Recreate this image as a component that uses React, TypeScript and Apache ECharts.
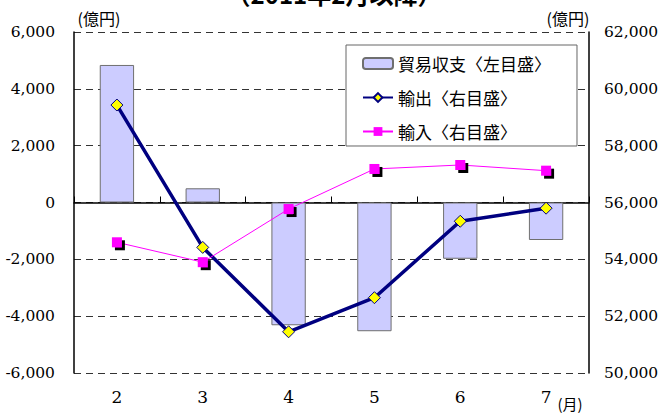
import React, { useEffect, useRef } from "react";
import * as echarts from "echarts";

// 月
const months = ["2", "3", "4", "5", "6", "7"];
// 貿易収支（億円、左目盛）
const tradeBalance = [4840, 500, -4320, -4530, -1980, -1320];
// 輸出（億円、右目盛）
const exportsValues = [59430, 54420, 51450, 52650, 55340, 55800];
// 輸入（億円、右目盛）
const importsValues = [54600, 53900, 55770, 57180, 57320, 57120];

const leftTicks = { min: -6000, max: 6000, interval: 2000 };
const rightTicks = { min: 50000, max: 62000, interval: 2000 };

const seriesNames = ["貿易収支〈左目盛〉", "輸出〈右目盛〉", "輸入〈右目盛〉"];

const SERIF = "DejaVu Serif";
const JP = "Noto Sans CJK JP";

const fmt = (v: number) => v.toLocaleString("en-US");

export default function App() {
  const ref = useRef<HTMLDivElement>(null);

  useEffect(() => {
    if (!ref.current) return;
    const chart = echarts.init(ref.current, undefined, { renderer: "svg" });
    chart.setOption({
      animation: false,
      backgroundColor: "#ffffff",
      grid: { left: 74, right: 71, top: 32, bottom: 43, containLabel: false, outerBoundsMode: "none" },
      legend: {
        data: seriesNames,
        orient: "vertical",
        left: 346,
        top: 45,
        padding: [10, 26, 6, 16],
        itemWidth: 30,
        itemHeight: 11,
        itemGap: 17,
        backgroundColor: "#ffffff",
        borderColor: "#666666",
        borderWidth: 1,
        borderRadius: 0,
        textStyle: { fontSize: 17, lineHeight: 11, color: "#000", fontFamily: JP },
      },
      xAxis: [
        {
          type: "category",
          data: months,
          position: "bottom",
          axisLine: { onZero: true, onZeroAxisIndex: 0, lineStyle: { color: "#000", width: 1.5 } },
          axisTick: { show: true, inside: true, length: 6, lineStyle: { color: "#000", width: 1 } },
          axisLabel: { show: false },
          splitLine: { show: false },
        },
        {
          type: "category",
          data: months,
          position: "bottom",
          axisLine: { show: false, onZero: false },
          axisTick: { show: false },
          axisLabel: { fontSize: 17, color: "#000", margin: 15, fontFamily: SERIF },
          splitLine: { show: false },
        },
      ],
      yAxis: [
        {
          type: "value",
          position: "left",
          ...leftTicks,
          axisLine: { show: true, lineStyle: { color: "#000", width: 1.5 } },
          axisTick: { show: false },
          axisLabel: { fontSize: 15.5, color: "#000", margin: 19, fontFamily: SERIF, formatter: fmt },
          splitLine: { show: true, lineStyle: { color: "#333", width: 1, type: [7, 5] } },
        },
        {
          type: "value",
          position: "right",
          ...rightTicks,
          axisLine: { show: true, lineStyle: { color: "#000", width: 1.5 } },
          axisTick: { show: false },
          axisLabel: { fontSize: 15.5, color: "#000", margin: 15, fontFamily: SERIF, formatter: fmt },
          splitLine: { show: false },
        },
      ],
      series: [
        {
          name: seriesNames[0],
          type: "bar",
          xAxisIndex: 0,
          yAxisIndex: 0,
          data: tradeBalance,
          barWidth: "40%",
          itemStyle: { color: "#ccccff", borderColor: "#6f6f6f", borderWidth: 1 },
          z: 2,
        },
        {
          name: seriesNames[1],
          type: "line",
          xAxisIndex: 0,
          yAxisIndex: 1,
          data: exportsValues,
          symbol: "diamond",
          symbolSize: 12,
          lineStyle: { color: "#000080", width: 3.5 },
          itemStyle: { color: "#ffff00", borderColor: "#000080", borderWidth: 1 },
          z: 3,
        },
        {
          name: seriesNames[2],
          type: "line",
          xAxisIndex: 0,
          yAxisIndex: 1,
          data: importsValues,
          symbol: "rect",
          symbolSize: 10,
          lineStyle: { color: "#ff00ff", width: 1 },
          itemStyle: {
            color: "#ff00ff",
            borderWidth: 0,
            shadowColor: "#000000",
            shadowOffsetX: 3,
            shadowOffsetY: 3,
            shadowBlur: 0,
          },
          z: 4,
        },
      ],
      graphic: [
        {
          type: "text",
          x: 334,
          y: -7,
          style: {
            text: "（2011年2月以降）",
            fontSize: 24,
            fontWeight: "bold",
            fill: "#000",
            fontFamily: JP,
            textAlign: "center",
            textVerticalAlign: "middle",
          },
        },
        {
          type: "text",
          x: 99,
          y: 18,
          style: { text: "(億円)", fontSize: 16, fill: "#000", fontFamily: JP, textAlign: "center", textVerticalAlign: "middle" },
        },
        {
          type: "text",
          x: 568,
          y: 18,
          style: { text: "(億円)", fontSize: 16, fill: "#000", fontFamily: JP, textAlign: "center", textVerticalAlign: "middle" },
        },
        {
          type: "text",
          x: 570,
          y: 403,
          style: { text: "(月)", fontSize: 15, fill: "#000", fontFamily: JP, textAlign: "center", textVerticalAlign: "middle" },
        },
      ],
    });
    return () => chart.dispose();
  }, []);

  return (
    <div
      ref={ref}
      style={{ width: 660, height: 416, position: "absolute", left: 0, top: 0 }}
    />
  );
}
